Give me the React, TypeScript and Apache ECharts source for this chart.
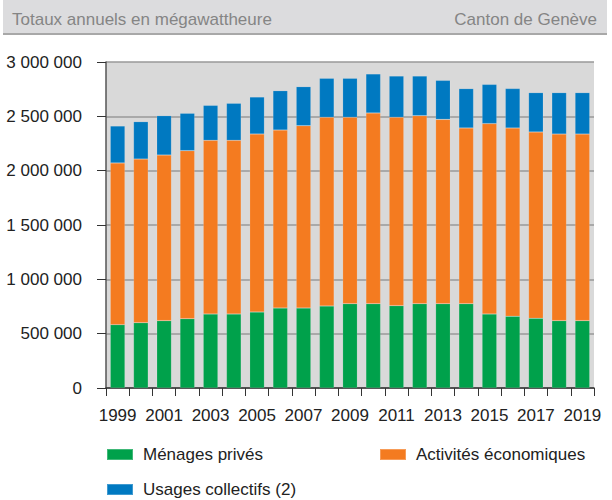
import React, { useEffect, useRef } from "react";
import * as echarts from "echarts";

const years = [
  "1999", "2000", "2001", "2002", "2003", "2004", "2005", "2006", "2007", "2008",
  "2009", "2010", "2011", "2012", "2013", "2014", "2015", "2016", "2017", "2018", "2019",
];
const menages = [
  583000, 601000, 620000, 638000, 681000, 681000, 699000, 736000, 736000, 755000,
  776000, 776000, 758000, 776000, 776000, 776000, 681000, 660000, 641000, 620000, 620000,
];
const activites = [
  1488000, 1506000, 1524000, 1546000, 1598000, 1598000, 1638000, 1638000, 1678000, 1736000,
  1715000, 1755000, 1733000, 1730000, 1696000, 1617000, 1752000, 1733000, 1715000, 1717000, 1717000,
];
const collectifs = [
  340000, 344000, 362000, 344000, 322000, 341000, 341000, 362000, 359000, 359000,
  359000, 359000, 380000, 365000, 359000, 362000, 361000, 362000, 362000, 381000, 381000,
];
const seriesNames = ["Ménages privés", "Activités économiques", "Usages collectifs (2)"];
const colors = ["#00a14b", "#f47b20", "#0079c1"];
const headerLeft = "Totaux annuels en mégawattheure";
const headerRight = "Canton de Genève";

const FONT = "'Liberation Sans', Arial, sans-serif";

export default function App() {
  const ref = useRef<HTMLDivElement>(null);
  useEffect(() => {
    if (!ref.current) return;
    const chart = echarts.init(ref.current, undefined, { renderer: "svg" });
    const fmt = (v: number) => String(v).replace(/\B(?=(\d{3})+(?!\d))/g, " ");
    const legendBase = {
      icon: "rect",
      itemWidth: 26,
      itemHeight: 11,
      itemGap: 8,
      textStyle: { fontFamily: FONT, fontSize: 17, color: "#222", padding: [0, 0, 0, 5] },
      selectedMode: false,
      padding: 0,
    };
    chart.setOption({
      animation: false,
      textStyle: { fontFamily: FONT },
      graphic: [
        {
          type: "rect",
          shape: { x: 3, y: 0, width: 604, height: 33 },
          style: { fill: "#dcdcde" },
        },
        {
          type: "line",
          shape: { x1: 3, y1: 34, x2: 607, y2: 34 },
          style: { stroke: "#a8a8a8", lineWidth: 2 },
        },
        {
          type: "text",
          x: 12,
          y: 19,
          style: { text: headerLeft, fill: "#858585", fontSize: 17, fontFamily: FONT, verticalAlign: "middle" },
        },
        {
          type: "text",
          x: 597,
          y: 19,
          style: { text: headerRight, fill: "#858585", fontSize: 17, fontFamily: FONT, verticalAlign: "middle", align: "right" },
        },
      ],
      grid: {
        left: 106,
        right: 18,
        top: 62,
        bottom: 112,
        show: true,
        backgroundColor: "#d9d9d9",
        borderWidth: 0,
      },
      legend: [
        { ...legendBase, data: [seriesNames[0]], left: 106, top: 446 },
        { ...legendBase, data: [seriesNames[1]], left: 379, top: 446 },
        { ...legendBase, data: [seriesNames[2]], left: 106, top: 481 },
      ],
      xAxis: {
        type: "category",
        data: years,
        axisLine: { lineStyle: { color: "#333", width: 1.5 } },
        axisTick: { show: true, interval: 0, length: 8, lineStyle: { color: "#333" } },
        axisLabel: { interval: 1, fontSize: 17, color: "#222", margin: 19, fontFamily: FONT },
      },
      yAxis: {
        type: "value",
        min: 0,
        max: 3000000,
        interval: 500000,
        axisLine: { show: true, lineStyle: { color: "#555", width: 1.5 } },
        axisTick: { show: true, length: 9, lineStyle: { color: "#333" } },
        axisLabel: { fontSize: 17, color: "#222", margin: 24, fontFamily: FONT, formatter: fmt },
        splitLine: { lineStyle: { color: "#999", width: 1.5 } },
      },
      series: [menages, activites, collectifs].map((d, i) => ({
        name: seriesNames[i],
        type: "bar",
        stack: "total",
        data: d,
        barWidth: "63%",
        itemStyle: { color: colors[i], borderColor: "rgba(255,255,255,0.25)", borderWidth: 0.5 },
      })),
    });
    return () => chart.dispose();
  }, []);
  return <div ref={ref} style={{ width: 612, height: 500, position: "absolute", left: 0, top: 0 }} />;
}
